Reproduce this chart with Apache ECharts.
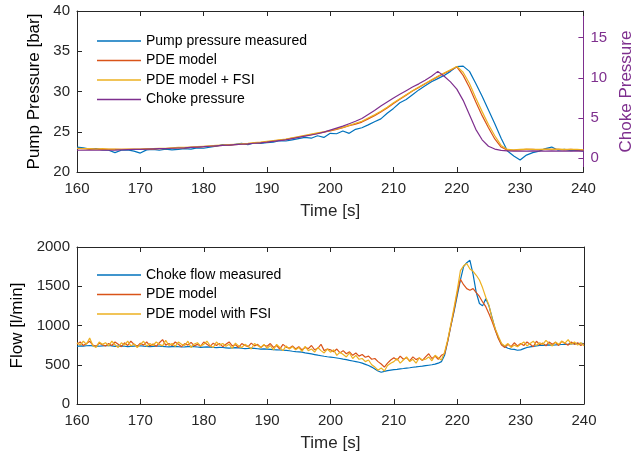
<!DOCTYPE html>
<html>
<head>
<meta charset="utf-8">
<script src="https://cdn.jsdelivr.net/npm/echarts@6/dist/echarts.min.js"></script>
<style>
    html, body { margin: 0; padding: 0; background: #fff; }
    #chart { width: 643px; height: 457px; }
</style>
</head>
<body>
<div id="chart"></div>
<script>
// sample grids (s)
var pressStart = 160, pressStep = 1, flowStart = 160, flowStep = 0.5;

// top plot: pump pressure [bar], 1 s samples from 160 to 240
var pumpMeasured = [
    23.1, 23.0, 22.85, 22.9, 22.75, 22.7, 22.4, 22.7, 22.75, 22.6,
    22.35, 22.75, 22.8, 22.7, 22.85, 22.75, 22.8, 22.9, 22.85, 23.0,
    22.95, 23.1, 23.2, 23.4, 23.3, 23.45, 23.55, 23.4, 23.6, 23.55,
    23.65, 23.7, 23.9, 23.85, 24.0, 24.15, 24.3, 24.2, 24.5, 24.3,
    24.8, 24.75, 25.1, 24.8, 25.3, 25.5, 25.85, 26.25, 26.6, 27.3,
    27.9, 28.6, 29.0, 29.6, 30.2, 30.7, 31.2, 31.6, 32.0, 32.5,
    33.1, 33.15, 32.5, 31.0, 29.4, 27.7, 26.0, 24.2, 22.6, 22.0,
    21.5, 22.1, 22.4, 22.6, 22.9, 23.1, 22.7, 22.8, 22.65, 22.7,
    22.6
];
var pumpPde = [
    22.9, 22.9, 22.85, 22.85, 22.8, 22.8, 22.8, 22.8, 22.8, 22.8,
    22.8, 22.85, 22.85, 22.9, 22.9, 22.95, 23.0, 23.0, 23.05, 23.1,
    23.15, 23.2, 23.25, 23.3, 23.35, 23.4, 23.45, 23.5, 23.6, 23.65,
    23.75, 23.85, 23.95, 24.05, 24.2, 24.35, 24.5, 24.65, 24.8, 24.95,
    25.1, 25.3, 25.5, 25.75, 25.95, 26.2, 26.6, 27.0, 27.45, 27.95,
    28.5, 29.05, 29.55, 30.05, 30.5, 30.95, 31.4, 31.85, 32.25, 32.65,
    33.05, 32.0, 30.5, 28.7, 27.0, 25.5, 24.1, 23.1, 22.7, 22.7,
    22.75, 22.8, 22.8, 22.75, 22.8, 22.8, 22.8, 22.75, 22.8, 22.75,
    22.7
];
var pumpPdeFsi = [
    22.95, 22.9, 22.9, 22.85, 22.9, 22.85, 22.85, 22.8, 22.85, 22.85,
    22.85, 22.9, 22.9, 22.95, 22.95, 23.0, 23.05, 23.05, 23.1, 23.15,
    23.2, 23.25, 23.3, 23.35, 23.4, 23.45, 23.5, 23.55, 23.65, 23.7,
    23.8, 23.9, 24.0, 24.1, 24.25, 24.4, 24.55, 24.7, 24.85, 25.0,
    25.15, 25.35, 25.55, 25.8, 26.05, 26.3, 26.7, 27.1, 27.55, 28.05,
    28.6, 29.1, 29.6, 30.1, 30.55, 31.0, 31.45, 31.9, 32.3, 32.7,
    33.1, 32.4, 31.0, 29.2, 27.5, 25.9, 24.5, 23.3, 22.8, 22.75,
    22.8, 22.85, 22.8, 22.8, 22.85, 22.8, 22.85, 22.8, 22.8, 22.8,
    22.75
];
// right axis: choke pressure
var chokePressure = [
    1.0, 1.0, 1.0, 1.0, 1.0, 1.0, 1.02, 1.05, 1.08, 1.1,
    1.12, 1.15, 1.18, 1.2, 1.22, 1.25, 1.28, 1.3, 1.35, 1.4,
    1.44, 1.5, 1.55, 1.6, 1.65, 1.7, 1.75, 1.8, 1.87, 1.93,
    2.0, 2.1, 2.2, 2.3, 2.45, 2.6, 2.75, 2.9, 3.05, 3.25,
    3.5, 3.75, 4.0, 4.3, 4.6, 4.95, 5.45, 5.95, 6.5, 7.0,
    7.5, 7.95, 8.4, 8.85, 9.25, 9.7, 10.2, 10.8, 10.2, 9.5,
    8.6, 7.2, 5.4, 3.6, 2.3, 1.5, 1.15, 0.98, 0.92, 0.9,
    0.9, 0.9, 0.92, 0.9, 0.9, 0.92, 0.9, 0.9, 0.9, 0.92,
    0.9
];

// bottom plot: flow [l/min], 0.5 s samples from 160 to 240
var flowMeasured = [
    735, 740, 738, 742, 745, 740, 738, 736, 740, 742,
    745, 740, 735, 738, 740, 736, 732, 735, 738, 740,
    742, 738, 735, 730, 733, 736, 738, 735, 730, 728,
    732, 735, 730, 726, 728, 732, 735, 730, 726, 722,
    725, 728, 724, 720, 718, 722, 720, 716, 712, 715,
    718, 715, 710, 706, 708, 712, 708, 704, 700, 702,
    700, 696, 692, 690, 688, 685, 682, 678, 672, 668,
    665, 660, 652, 645, 638, 630, 622, 615, 608, 602,
    598, 592, 586, 580, 572, 565, 556, 548, 540, 532,
    520, 505, 490, 470, 445, 420, 405, 415, 425, 432,
    438, 442, 448, 452, 458, 462, 468, 472, 478, 482,
    488, 494, 500, 508, 520, 540, 620, 800, 1000, 1180,
    1380, 1580, 1750, 1800, 1830, 1650, 1420, 1280, 1250, 1340,
    1250, 1100, 950, 840, 760, 730, 710, 700, 695, 685,
    690, 705, 720, 728, 735, 740, 745, 748, 750, 752,
    750, 752, 755, 758, 760, 762, 765, 768, 770, 772,
    770
];
var flowPde = [
    760, 790, 745, 770, 800, 750, 735, 775, 755, 740,
    770, 745, 790, 760, 730, 780, 745, 800, 760, 735,
    775, 750, 790, 740, 765, 735, 780, 820, 750, 770,
    745, 790, 760, 730, 770, 750, 785, 740, 760, 735,
    790, 760, 735, 775, 745, 770, 730, 760, 790, 740,
    755, 720, 770, 745, 730, 775, 740, 760, 720, 750,
    735, 770, 720, 745, 700, 760, 725, 710, 740, 700,
    730, 690, 720, 705, 745, 690, 710, 760, 680, 700,
    690, 665, 700, 650, 680, 640, 665, 620, 650, 610,
    630, 595, 610, 570, 580, 540, 510, 470, 520, 560,
    590, 560, 610, 570, 590, 550, 600, 565, 585, 555,
    600, 640, 580, 610, 570, 620, 640, 800, 1000, 1200,
    1420, 1590, 1520, 1470, 1450, 1470, 1420, 1370, 1300, 1240,
    1150, 1050, 940, 830, 750, 720, 760, 730, 780, 740,
    770, 745, 790, 760, 730, 800, 755, 775, 740, 790,
    760, 785, 745, 800, 770, 750, 790, 760, 780, 745,
    770
];
var flowPdeFsi = [
    780, 750, 800, 760, 840, 745, 720, 790, 760, 780,
    740, 800, 755, 720, 780, 750, 800, 740, 765, 720,
    760, 800, 735, 770, 745, 790, 760, 740, 810, 745,
    770, 735, 790, 760, 745, 800, 720, 765, 780, 740,
    760, 800, 745, 720, 790, 750, 770, 735, 760, 710,
    775, 740, 720, 760, 735, 700, 770, 745, 720, 760,
    710, 745, 690, 760, 720, 680, 740, 700, 730, 690,
    720, 670, 735, 680, 700, 660, 720, 680, 650, 700,
    660, 690, 620, 660, 630, 600, 650, 580, 620, 570,
    580, 540, 560, 500, 470, 430, 460, 420, 490, 520,
    540, 580, 520, 560, 600, 540, 570, 520, 590, 560,
    570, 600, 550, 620, 590, 560, 660, 820, 1020, 1230,
    1450, 1700, 1760, 1790, 1720, 1690, 1640, 1580, 1480, 1360,
    1260, 1090, 960, 860, 770, 740, 770, 720, 750, 730,
    760, 790, 740, 770, 800, 745, 780, 760, 810, 770,
    740, 790, 760, 800, 775, 820, 760, 790, 750, 780,
    740
];

var chokeTicks = [0, 5, 10, 15];

var blue = '#0072BD', red = '#D95319', yellow = '#EDB120', purple = '#7E2F8E';
var axisColor = '#262626';
var font = "'Liberation Sans', Arial, Helvetica, sans-serif";

function pairs(start, step, values) {
    return values.map(function (v, i) {
        return [start + i * step, v];
    });
}

function plain(v) {
    return String(v);
}

function lineSeries(name, color, xi, yi, data) {
    return {
        name: name,
        type: 'line',
        xAxisIndex: xi,
        yAxisIndex: yi,
        showSymbol: false,
        symbol: 'none',
        silent: true,
        lineStyle: { color: color, width: 1.2 },
        itemStyle: { color: color },
        data: data
    };
}

function timeAxis(grid, withLabels) {
    return {
        type: 'value',
        gridIndex: grid,
        position: withLabels ? 'bottom' : 'top',
        min: 160,
        max: 240,
        interval: 10,
        name: withLabels ? 'Time [s]' : '',
        nameLocation: 'middle',
        nameGap: 31,
        nameTextStyle: { fontSize: 17, color: axisColor, fontFamily: font },
        axisLine: { show: true, onZero: false, lineStyle: { color: axisColor, width: 1 } },
        axisTick: { show: true, inside: true, length: 5, lineStyle: { color: axisColor } },
        axisLabel: { show: withLabels, fontSize: 15, color: axisColor, fontFamily: font, margin: 9, formatter: plain },
        splitLine: { show: false }
    };
}

var chartDom = document.getElementById('chart');
var myChart = echarts.init(chartDom);
var option;

option = {
    animation: false,
    backgroundColor: '#fff',
    grid: [{
        left: 77,
        right: 59,
        top: 11,
        height: 161
    }, {
        left: 77,
        right: 59,
        top: 247,
        height: 157
    }],
    legend: [{
        data: ['Pump pressure measured', 'PDE model', 'PDE model + FSI', 'Choke pressure'],
        orient: 'vertical',
        left: 92,
        top: 29,
        icon: 'rect',
        itemWidth: 44,
        itemHeight: 1.5,
        itemGap: 5.5,
        selectedMode: false,
        textStyle: { fontSize: 14, color: '#000', fontFamily: font }
    }, {
        data: ['Choke flow measured', 'PDE model', 'PDE model with FSI'],
        orient: 'vertical',
        left: 92,
        top: 263,
        icon: 'rect',
        itemWidth: 44,
        itemHeight: 1.5,
        itemGap: 5.5,
        selectedMode: false,
        textStyle: { fontSize: 14, color: '#000', fontFamily: font }
    }],
    xAxis: [
        timeAxis(0, true),
        timeAxis(0, false),
        timeAxis(1, true),
        timeAxis(1, false)
    ],
    yAxis: [{
        type: 'value',
        gridIndex: 0,
        position: 'left',
        min: 20,
        max: 40,
        interval: 5,
        name: 'Pump Pressure [bar]',
        nameLocation: 'middle',
        nameGap: 27,
        nameTextStyle: { fontSize: 17, color: '#000', fontFamily: font },
        axisLine: { show: true, onZero: false, lineStyle: { color: axisColor } },
        axisTick: { show: true, inside: true, length: 5, lineStyle: { color: axisColor } },
        axisLabel: { fontSize: 15, color: axisColor, fontFamily: font, margin: 7, formatter: plain },
        splitLine: { show: false }
    }, {
        type: 'value',
        gridIndex: 0,
        position: 'right',
        min: -1.7,
        max: 18.3,
        name: 'Choke Pressure',
        nameLocation: 'middle',
        nameGap: 34,
        nameTextStyle: { fontSize: 17, color: purple, fontFamily: font },
        axisLine: { show: true, onZero: false, lineStyle: { color: purple } },
        axisTick: { show: true, inside: true, length: 5, customValues: chokeTicks, lineStyle: { color: purple } },
        axisLabel: { fontSize: 15, color: purple, fontFamily: font, margin: 7, customValues: chokeTicks, formatter: plain },
        splitLine: { show: false }
    }, {
        type: 'value',
        gridIndex: 1,
        position: 'left',
        min: 0,
        max: 2000,
        interval: 500,
        name: 'Flow [l/min]',
        nameLocation: 'middle',
        nameGap: 41,
        nameTextStyle: { fontSize: 17, color: '#000', fontFamily: font },
        axisLine: { show: true, onZero: false, lineStyle: { color: axisColor } },
        axisTick: { show: true, inside: true, length: 5, lineStyle: { color: axisColor } },
        axisLabel: { fontSize: 15, color: axisColor, fontFamily: font, margin: 7, formatter: plain },
        splitLine: { show: false }
    }, {
        type: 'value',
        gridIndex: 1,
        position: 'right',
        min: 0,
        max: 2000,
        interval: 500,
        axisLine: { show: true, onZero: false, lineStyle: { color: axisColor } },
        axisTick: { show: true, inside: true, length: 5, lineStyle: { color: axisColor } },
        axisLabel: { show: false },
        splitLine: { show: false }
    }],
    series: [
        lineSeries('Pump pressure measured', blue, 0, 0, pairs(pressStart, pressStep, pumpMeasured)),
        lineSeries('PDE model', red, 0, 0, pairs(pressStart, pressStep, pumpPde)),
        lineSeries('PDE model + FSI', yellow, 0, 0, pairs(pressStart, pressStep, pumpPdeFsi)),
        lineSeries('Choke pressure', purple, 0, 1, pairs(pressStart, pressStep, chokePressure)),
        lineSeries('Choke flow measured', blue, 2, 2, pairs(flowStart, flowStep, flowMeasured)),
        lineSeries('PDE model', red, 2, 2, pairs(flowStart, flowStep, flowPde)),
        lineSeries('PDE model with FSI', yellow, 2, 2, pairs(flowStart, flowStep, flowPdeFsi))
    ]
};

myChart.setOption(option);
</script>
</body>
</html>
